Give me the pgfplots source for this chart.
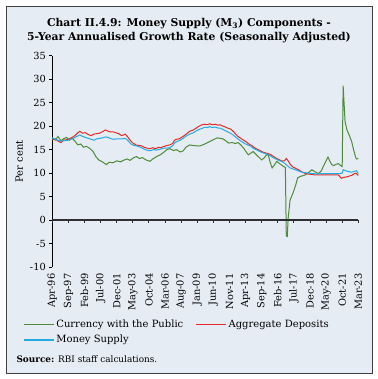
\documentclass[border=0pt]{standalone}
\usepackage{fontspec}
\setmainfont{DejaVu Serif}
\usepackage{pgfplots}
\usepackage{pgfplotstable}
\pgfplotsset{compat=1.18}
\definecolor{bgc}{RGB}{230,236,243}
\definecolor{cgreen}{RGB}{78,138,58}
\definecolor{cred}{RGB}{228,42,40}
\definecolor{cblue}{RGB}{38,170,226}
\definecolor{axc}{RGB}{45,45,50}

\pgfplotstableread{
m v
0 17.5
3 17.0
6 17.8
9 16.9
12 17.3
15 17.6
18 17.0
21 17.4
24 16.8
27 16.0
30 16.2
33 15.5
36 15.7
40 15.2
43 14.6
46 13.5
49 12.8
52 12.5
55 12.1
57 11.8
60 12.3
64 12.2
68 12.6
72 12.4
76 12.8
79 13.0
82 12.7
86 13.3
89 13.5
92 13.1
95 13.3
99 12.8
103 12.5
106 13.0
110 13.5
114 13.9
118 14.5
121 15.0
124 15.2
128 14.8
131 15.0
135 14.5
138 14.7
141 15.5
145 16.0
148 15.9
152 15.8
156 15.8
160 16.1
163 16.4
167 16.8
171 17.2
174 17.5
177 17.4
180 17.3
183 16.9
186 16.4
190 16.5
193 16.3
196 16.5
199 16.0
202 15.3
205 14.4
207 13.9
210 14.3
212 14.6
215 14.0
218 13.4
221 12.8
224 13.3
226 13.9
228 13.8
230 12.3
232 11.1
234 11.6
237 12.5
240 12.0
242 11.7
244 11.4
246 11.2
247 -3.4
248 -3.5
249 0.5
251 4.3
254 5.7
257 7.5
259 9.0
262 9.3
267 9.6
271 10.2
274 10.7
278 10.2
281 9.9
284 10.5
286 11.4
289 12.6
291 13.4
293 12.5
295 11.8
297 11.6
300 11.9
302 12.0
305 11.5
306 11.4
307 28.6
309 21.0
311 19.2
314 17.8
316 16.7
318 15.0
320 13.5
321 13.0
323 13.1
}\cwp

\pgfplotstableread{
m v
0 17.1
3 17.3
6 16.8
9 16.5
12 17.0
15 17.1
18 17.3
21 17.6
24 18.0
27 18.6
29 18.9
32 18.5
35 18.6
38 18.2
41 18.0
44 18.3
47 18.4
50 18.5
53 18.8
56 19.2
58 19.0
61 18.8
64 18.8
67 18.6
70 18.4
73 18.0
75 18.1
77 18.3
80 17.6
83 16.8
85 16.4
88 16.0
91 15.9
94 15.8
97 15.5
100 15.3
103 15.2
106 15.4
109 15.2
112 15.5
114 15.4
117 15.6
120 15.8
124 16.0
127 16.3
129 17.0
131 17.2
134 17.3
138 17.8
142 18.4
145 18.9
149 19.2
152 19.6
155 20.0
158 20.3
161 20.4
164 20.3
166 20.5
169 20.3
172 20.4
175 20.2
177 20.3
180 20.0
183 19.8
186 19.5
188 19.4
191 18.9
193 18.4
196 17.8
199 17.4
202 17.0
205 16.6
208 16.1
211 15.8
214 15.3
217 15.0
220 14.7
223 14.4
227 14.2
230 14.0
233 13.6
236 13.2
239 12.9
242 12.6
245 12.6
247 13.1
249 12.6
251 11.9
254 11.3
257 11.0
260 10.7
263 10.3
266 10.0
270 9.8
274 9.7
278 9.6
282 9.6
286 9.6
290 9.6
294 9.6
298 9.6
302 9.6
305 8.9
308 9.1
311 9.2
314 9.4
316 9.5
318 9.8
320 10.0
322 9.7
323 9.5
}\agd

\pgfplotstableread{
m v
0 17.5
3 17.2
6 17.0
9 16.8
12 16.9
15 16.9
18 17.1
21 17.3
24 17.6
27 17.9
29 18.1
32 17.8
35 17.6
38 17.4
41 17.2
44 17.0
47 17.3
50 17.4
53 17.5
56 17.7
59 17.6
62 17.3
65 17.2
68 17.3
71 17.3
74 17.3
77 17.4
80 16.9
83 16.2
86 15.9
89 15.8
92 15.6
95 15.3
98 15.0
101 14.8
104 14.8
107 15.0
110 14.9
114 15.1
117 15.3
120 15.3
124 15.4
127 15.8
129 16.4
131 16.7
134 16.9
138 17.4
142 18.0
145 18.3
149 18.6
152 19.0
155 19.3
158 19.5
161 19.8
164 19.7
166 19.9
169 19.7
172 19.8
175 19.6
177 19.6
180 19.3
183 19.0
186 18.7
188 18.5
191 18.1
194 17.6
197 17.1
200 16.7
203 16.3
206 16.0
209 15.8
212 15.3
215 15.0
218 14.7
221 14.4
224 14.2
227 14.0
230 13.7
233 13.3
236 13.0
239 12.7
242 12.5
245 12.1
248 11.6
251 11.1
254 10.9
258 10.6
262 10.3
266 10.1
270 10.0
275 9.9
280 9.8
285 9.9
290 9.9
295 9.9
300 9.9
304 9.9
306 10.0
307 10.7
310 10.5
313 10.3
316 10.2
319 10.4
321 10.5
323 9.9
}\msup

\begin{document}
\begin{tikzpicture}
\fill[white] (0pt,0pt) rectangle (377pt,379pt);
\filldraw[fill=bgc, draw=black!75, line width=0.8pt] (6pt,6pt) rectangle (372.5pt,373pt);
\node[font=\fontsize{10.8}{12}\selectfont\bfseries] at (189pt,355pt) {Chart II.4.9: Money Supply (M\textsubscript{3}) Components -};
\node[font=\fontsize{10.8}{12}\selectfont\bfseries] at (189pt,341.5pt) {5-Year Annualised Growth Rate (Seasonally Adjusted)};
\node[font=\fontsize{8.9}{10}\selectfont, anchor=west] at (13pt,20pt) {\textbf{Source:} RBI staff calculations.};
\begin{axis}[
  at={(52.3pt,112pt)}, anchor=south west,
  scale only axis, width=306pt, height=211.3pt,
  xmin=0, xmax=323, ymin=-10, ymax=35,
  axis y line*=left, axis x line*=bottom,
  x axis line style={draw=none},
  xtick={0,17,34,51,68,85,102,119,136,153,170,187,204,221,238,255,272,289,306,323},
  xticklabels={Apr-96,Sep-97,Feb-99,Jul-00,Dec-01,May-03,Oct-04,Mar-06,Aug-07,Jan-09,Jun-10,Nov-11,Apr-13,Sep-14,Feb-16,Jul-17,Dec-18,May-20,Oct-21,Mar-23},
  major x tick style={draw=none},
  ytick={-10,-5,...,35},
  tick align=outside, major tick length=3pt,
  major y tick style={black, line width=0.6pt},
  y axis line style={black, line width=0.8pt},
  /pgf/number format/assume math mode=true,
  tick label style={font=\fontsize{9.8}{11}\selectfont},
  xticklabel style={rotate=90, anchor=east},
  ylabel={Per cent}, ylabel style={font=\fontsize{9}{11}\selectfont},
  every axis y label/.style={at={(ticklabel cs:0.5)}, rotate=90, anchor=near ticklabel},
  legend columns=2,
  legend cell align=left,
  legend style={at={(-0.106,-0.232)}, anchor=north west, draw=none, fill=none,
    font=\fontsize{10}{11}\selectfont,
    /tikz/every even column/.append style={column sep=10pt},
    row sep=2pt},
  legend image code/.code={\draw[line width=1.3pt] (0pt,0pt) -- (30pt,0pt);},
  clip=false,
]
\addplot[cgreen, line width=1pt] table[x=m,y=v] {\cwp};
\addlegendentry{Currency with the Public}
\addplot[cred, line width=1pt] table[x=m,y=v] {\agd};
\addlegendentry{Aggregate Deposits}
\addplot[cblue, line width=1pt] table[x=m,y=v] {\msup};
\addlegendentry{Money Supply}
\end{axis}
% zero line and its downward ticks (axis furniture), drawn after the axis
\draw[axc, line width=1.2pt] (52.3pt,159pt) -- (358.3pt,159pt);
\foreach \k in {0,...,19} {
  \draw[axc, line width=0.9pt] ({52.3pt+\k*16.105pt},159pt) -- ++(0pt,-3.5pt);
}
\end{tikzpicture}
\end{document}
